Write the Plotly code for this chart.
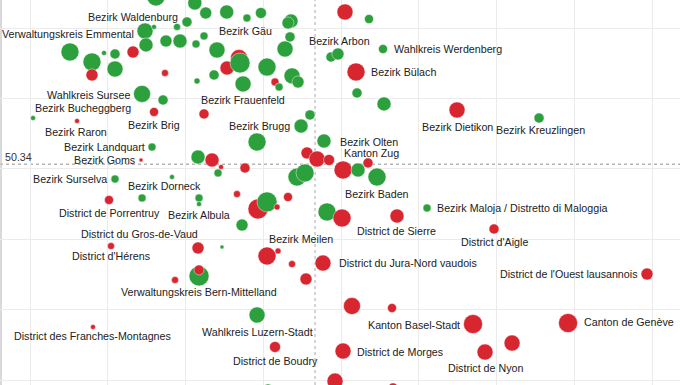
import plotly.graph_objects as go

NAMES = [
    "Wahlkreis Willisau", "", "", "", "Bezirk Gäu", "", "", "", "", "",
    "Bezirk Waldenburg", "", "Verwaltungskreis Emmental", "", "", "", "", "", "", "",
    "", "", "", "", "", "", "", "", "", "",
    "Bezirk Frauenfeld", "", "", "", "", "", "", "", "", "",
    "", "", "Bezirk Brugg", "Wahlkreis Sursee", "", "Bezirk Brig", "", "Bezirk Bucheggberg", "Bezirk Raron", "Bezirk Landquart",
    "Bezirk Goms", "Bezirk Surselva", "", "", "", "", "", "", "Bezirk Olten", "",
    "", "", "", "Kanton Zug", "", "Bezirk Baden", "", "", "Bezirk Dorneck", "",
    "", "Bezirk Albula", "District de Porrentruy", "", "", "", "", "", "", "",
    "", "District du Gros-de-Vaud", "District d'Hérens", "", "Bezirk Meilen", "", "", "District du Jura-Nord vaudois", "", "Verwaltungskreis Bern-Mittelland",
    "", "", "Wahlkreis Luzern-Stadt", "District des Franches-Montagnes", "District de Boudry", "", "", "Kanton Basel-Stadt", "Canton de Genève", "",
    "District de Nyon", "District de Morges", "District de l'Ouest lausannois", "", "", "", "", "Bezirk Arbon", "Wahlkreis Werdenberg", "Bezirk Bülach",
    "", "", "Bezirk Dietikon", "Bezirk Kreuzlingen", "Bezirk Maloja / Distretto di Maloggia", "District de Sierre", "District d'Aigle",
]

X = [
    16.2, 21.2, 22.6, 25.3, 27.9, 29.7, 33.57, 33.18, 40.51, 43.60,
    20.19, 18.91, 14.79, 15.95, 17.49, 19.29, 21.35, 22.38, 24.05, 14.92,
    13.25, 9.52, 10.93, 5.14, 7.97, 7.97, 10.93, 26.88, 25.34, 27.01,
    27.40, 23.67, 21.48, 17.36, 30.48, 32.80, 33.44, 33.70, 34.47, 31.51,
    32.03, 36.01, 34.86, 14.41, 17.11, 15.95, 22.38, 0.39, 6.05, 15.69,
    14.28, 10.93, 21.61, 23.41, 24.57, 24.18, 27.65, 29.20, 37.81, 35.63,
    36.91, 38.46, 40.26, 43.47, 42.19, 44.63, 34.34, 35.37, 18.26, 14.41,
    21.74, 21.74, 10.16, 26.62, 29.32, 30.48, 31.77, 33.18, 27.27, 38.20,
    40.13, 21.61, 10.42, 24.69, 30.48, 31.90, 33.70, 37.68, 35.50, 21.74,
    21.74, 18.65, 29.20, 8.10, 31.51, 41.41, 46.56, 56.98, 69.20, 62.00,
    58.52, 40.26, 79.36, 39.23, 46.69, 30.61, 38.71, 39.61, 45.40, 41.93,
    42.06, 45.53, 54.92, 65.47, 51.06, 47.20, 59.68,
]

Y = [
    62.22, 61.79, 61.08, 61.15, 60.72, 61.08, 60.51, 60.37, 61.15, 60.65,
    60.44, 60.09, 59.80, 60.09, 59.09, 59.09, 58.88, 59.45, 58.45, 58.81,
    58.31, 58.24, 58.17, 58.31, 57.60, 56.68, 57.10, 57.88, 57.17, 57.53,
    56.04, 56.68, 56.25, 56.82, 57.24, 58.52, 59.38, 56.61, 56.18, 56.18,
    55.82, 53.84, 53.05, 55.33, 54.90, 54.05, 53.91, 53.62, 53.41, 51.56,
    50.64, 49.29, 50.85, 50.64, 50.14, 49.72, 50.07, 51.92, 51.99, 51.14,
    50.71, 50.64, 49.93, 50.43, 49.93, 49.43, 49.43, 49.72, 49.43, 47.94,
    47.94, 47.51, 47.80, 48.22, 47.16, 47.66, 47.30, 48.01, 46.02, 46.95,
    46.52, 44.39, 44.53, 44.46, 43.82, 44.18, 43.25, 43.32, 42.19, 42.40,
    42.83, 42.12, 39.63, 38.78, 37.36, 40.27, 40.13, 38.99, 39.06, 37.64,
    37.00, 37.07, 42.54, 34.94, 34.45, 34.45, 57.95, 58.17, 58.52, 56.89,
    55.40, 54.62, 54.19, 53.62, 47.23, 46.66, 45.74,
]

POP = [
    324, 196, 144, 196, 64, 121, 196, 144, 256, 81,
    100, 49, 256, 25, 144, 196, 64, 64, 256, 196,
    144, 25, 100, 324, 324, 144, 256, 289, 196, 400,
    256, 100, 36, 49, 324, 256, 100, 256, 144, 64,
    64, 100, 196, 289, 100, 81, 100, 25, 25, 64,
    16, 64, 196, 196, 25, 64, 100, 324, 196, 144,
    256, 121, 324, 100, 196, 324, 324, 324, 25, 64,
    64, 25, 81, 49, 400, 400, 36, 81, 144, 324,
    324, 144, 49, 16, 324, 36, 49, 256, 144, 400,
    100, 49, 256, 25, 121, 289, 81, 361, 361, 256,
    256, 256, 144, 256, 100, 64, 100, 144, 81, 324,
    100, 196, 256, 100, 64, 196, 100,
]

GROUP = [
    "Ja", "Ja", "Ja", "Ja", "Ja", "Ja", "Ja", "Ja", "Nein", "Ja",
    "Ja", "Ja", "Ja", "Ja", "Ja", "Ja", "Ja", "Ja", "Ja", "Ja",
    "Nein", "Ja", "Ja", "Ja", "Ja", "Nein", "Ja", "Nein", "Nein", "Ja",
    "Ja", "Ja", "Ja", "Nein", "Ja", "Ja", "Ja", "Ja", "Ja", "Nein",
    "Ja", "Ja", "Ja", "Ja", "Ja", "Nein", "Nein", "Ja", "Nein", "Ja",
    "Nein", "Ja", "Ja", "Nein", "Nein", "Ja", "Nein", "Ja", "Ja", "Nein",
    "Nein", "Nein", "Nein", "Nein", "Ja", "Ja", "Ja", "Ja", "Ja", "Ja",
    "Ja", "Ja", "Nein", "Nein", "Nein", "Ja", "Nein", "Nein", "Ja", "Ja",
    "Nein", "Nein", "Nein", "Ja", "Nein", "Nein", "Nein", "Nein", "Nein", "Ja",
    "Nein", "Nein", "Ja", "Nein", "Nein", "Nein", "Nein", "Nein", "Nein", "Nein",
    "Nein", "Nein", "Nein", "Nein", "Nein", "Ja", "Ja", "Ja", "Ja", "Nein",
    "Ja", "Ja", "Nein", "Ja", "Ja", "Nein", "Nein",
]

REF_Y = 50.34
REF_X = 36.66

COLORS = {"Ja": "#2ca03c", "Nein": "#d7262f"}

# label placement: xanchor, xshift, yshift (pixels)
LABEL_POS = {
    "Wahlkreis Willisau": ("right", -11, 0),
    "Bezirk Waldenburg": ("right", -7, 5),
    "Bezirk Gäu": ("center", -1, -13),
    "Verwaltungskreis Emmental": ("right", -9, -3),
    "Bezirk Frauenfeld": ("center", 0, -16),
    "Bezirk Brugg": ("right", -9, 0),
    "Wahlkreis Sursee": ("right", -10, -1),
    "Bezirk Bucheggberg": ("left", 0, 10),
    "Bezirk Raron": ("center", -1, -11),
    "Bezirk Brig": ("center", 0, -13),
    "Bezirk Landquart": ("right", -5, 0),
    "Bezirk Goms": ("right", -4, 0),
    "Bezirk Surselva": ("right", -6, 0),
    "Bezirk Dorneck": ("center", -7, -9),
    "District de Porrentruy": ("center", 0, -13),
    "Bezirk Albula": ("center", 0, -11),
    "District du Gros-de-Vaud": ("right", 2, 14),
    "District d'Hérens": ("center", 0, -10),
    "Bezirk Meilen": ("left", 0, 17),
    "District du Jura-Nord vaudois": ("left", 14, 0),
    "Verwaltungskreis Bern-Mittelland": ("center", 0, -16),
    "Wahlkreis Luzern-Stadt": ("center", 0, -17),
    "District des Franches-Montagnes": ("center", 0, -9),
    "District de Boudry": ("center", 0, -14),
    "Kanton Basel-Stadt": ("right", -11, -1),
    "Canton de Genève": ("left", 14, 1),
    "District de Nyon": ("center", 0, -16),
    "District de Morges": ("left", 12, -1),
    "District de l'Ouest lausannois": ("right", -8, 0),
    "Bezirk Arbon": ("center", 2, 13),
    "Wahlkreis Werdenberg": ("left", 9, 0),
    "Bezirk Bülach": ("left", 13, 0),
    "Bezirk Dietikon": ("center", 0, -17),
    "Bezirk Kreuzlingen": ("left", -45, -12),
    "Bezirk Olten": ("left", 14, -1),
    "Kanton Zug": ("center", 4, 10),
    "Bezirk Baden": ("center", 0, -17),
    "Bezirk Maloja / Distretto di Maloggia": ("left", 8, 0),
    "District de Sierre": ("center", 0, -15),
    "District d'Aigle": ("center", 0, -13),
}

FONT = "Liberation Sans, Arial, sans-serif"
LABEL_SIZE = 10.7

fig = go.Figure()
fig.add_trace(go.Scatter(
    x=X, y=Y, mode="markers",
    text=NAMES,
    marker=dict(
        size=POP, sizemode="area", sizeref=2, sizemin=1.5,
        color=[COLORS[g] for g in GROUP],
        opacity=1,
        line=dict(width=0.8, color="rgba(255,255,255,0.55)"),
    ),
    hoverinfo="text",
    showlegend=False,
))

annotations = []
for name, xv, yv in zip(NAMES, X, Y):
    if not name:
        continue
    anchor, dx, dy = LABEL_POS.get(name, ("left", 8, 0))
    annotations.append(dict(
        x=xv, y=yv, xref="x", yref="y", text=name, showarrow=False,
        xanchor=anchor, yanchor="middle", xshift=dx, yshift=dy,
        font=dict(family=FONT, size=LABEL_SIZE, color="#222"),
    ))

annotations.append(dict(
    x=0, y=REF_Y, xref="paper", yref="y", text=f"{REF_Y:.2f}", showarrow=False,
    xanchor="left", yanchor="middle", xshift=3, yshift=7,
    font=dict(family=FONT, size=LABEL_SIZE, color="#333"),
))

shapes = [
    dict(type="line", xref="paper", yref="y", x0=0, x1=1, y0=REF_Y, y1=REF_Y,
         line=dict(color="#b5b5b5", width=1.5, dash="dot"), layer="below"),
    dict(type="line", xref="x", yref="paper", x0=REF_X, x1=REF_X, y0=0, y1=1,
         line=dict(color="#aaaaaa", width=1, dash="3px,3px"), layer="below"),
    dict(type="line", xref="paper", yref="paper", x0=0.0015, x1=0.0015, y0=0, y1=1,
         line=dict(color="#cccccc", width=1.5), layer="below"),
]

fig.update_layout(
    width=680, height=385,
    margin=dict(l=0, r=0, t=0, b=0),
    paper_bgcolor="white", plot_bgcolor="white",
    annotations=annotations, shapes=shapes,
    xaxis=dict(range=[-3.859, 83.60], tick0=0, dtick=10, showgrid=True,
               gridcolor="#ebebeb", gridwidth=1, zeroline=False,
               showticklabels=False, ticks=""),
    yaxis=dict(range=[34.66, 62.0], tick0=0, dtick=5, showgrid=True,
               gridcolor="#ebebeb", gridwidth=1, zeroline=False,
               showticklabels=False, ticks=""),
    font=dict(family=FONT),
)

fig.write_html("out.html", config={"displayModeBar": False},
               post_script="document.body.style.margin='0';")
